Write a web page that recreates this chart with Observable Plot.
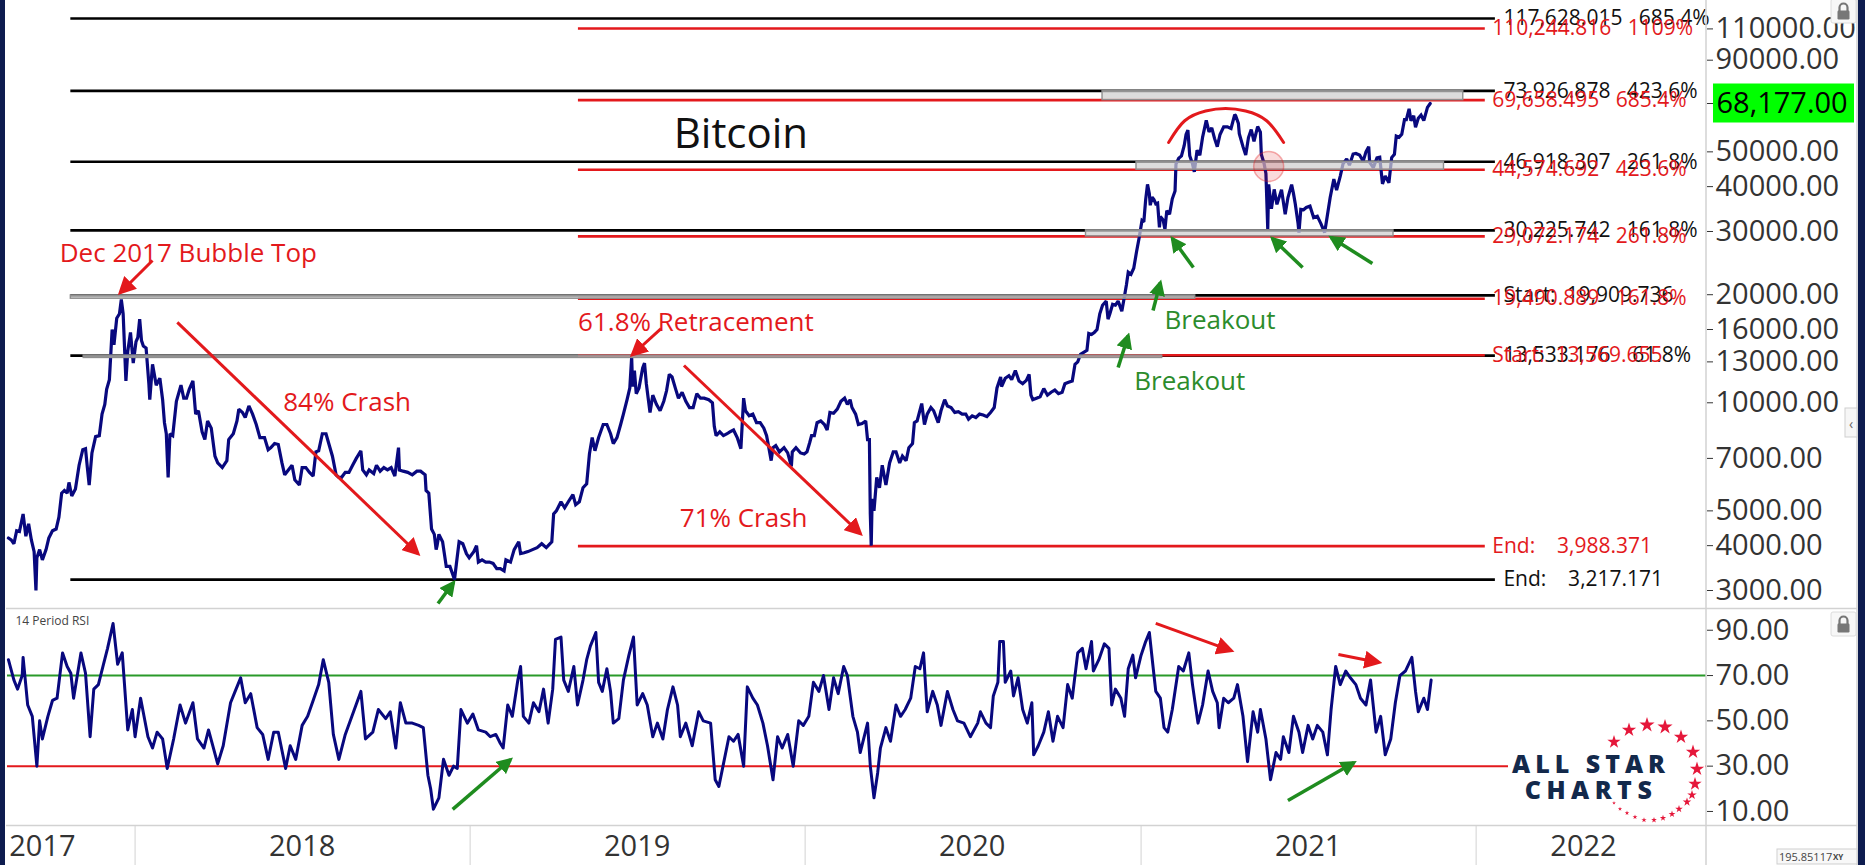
<!DOCTYPE html>
<html><head><meta charset="utf-8">
<script src="https://cdn.jsdelivr.net/npm/d3@7"></script>
<script src="https://cdn.jsdelivr.net/npm/@observablehq/plot@0.6"></script>
<style>
body{margin:0;background:#fff;font-family:"Open Sans",sans-serif;}
#wrap{position:relative;width:1865px;height:865px;overflow:hidden;background:#fff;}
#wrap svg{display:block}
</style></head><body><div id="wrap"></div><script>
// ---------------- DATA ----------------
const price2017 = [["2017-08-16",4200],["2017-08-19",4150],["2017-08-22",4050],["2017-08-25",4400],["2017-08-28",4380],["2017-09-01",4900],["2017-09-04",4250],["2017-09-07",4600],["2017-09-10",4150],["2017-09-13",3850],["2017-09-15",3000],["2017-09-16",3700],["2017-09-19",3900],["2017-09-22",3650],["2017-09-26",3900],["2017-09-29",4200],["2017-10-03",4400],["2017-10-07",4450],["2017-10-10",4800],["2017-10-13",5600],["2017-10-16",5700],["2017-10-19",5600],["2017-10-21",6000],["2017-10-24",5500],["2017-10-28",5750],["2017-11-01",6700],["2017-11-05",7400],["2017-11-08",7450],["2017-11-10",6600],["2017-11-12",5900],["2017-11-15",7250],["2017-11-19",8050],["2017-11-23",8100],["2017-11-26",9300],["2017-11-29",9900],["2017-12-01",10900],["2017-12-04",11600],["2017-12-07",16000],["2017-12-09",14500],["2017-12-12",17200],["2017-12-15",17700],["2017-12-17",19400],["2017-12-19",17700],["2017-12-22",11500],["2017-12-24",13900],["2017-12-27",15700],["2017-12-30",12900]];
const price2018 = [["2018-01-02",14800],["2018-01-04",15200],["2018-01-06",17100],["2018-01-08",14900],["2018-01-10",14400],["2018-01-13",14200],["2018-01-16",11300],["2018-01-17",10200],["2018-01-20",12800],["2018-01-24",11200],["2018-01-28",11700],["2018-01-31",10200],["2018-02-02",8800],["2018-02-04",8200],["2018-02-06",6200],["2018-02-08",8200],["2018-02-11",8100],["2018-02-15",10100],["2018-02-20",11200],["2018-02-23",10300],["2018-02-26",10300],["2018-03-01",10900],["2018-03-05",11500],["2018-03-08",9300],["2018-03-11",9500],["2018-03-15",8300],["2018-03-18",7900],["2018-03-21",8900],["2018-03-25",8500],["2018-03-29",7100],["2018-04-01",6800],["2018-04-06",6600],["2018-04-11",6900],["2018-04-13",7900],["2018-04-18",8200],["2018-04-22",8900],["2018-04-24",9600],["2018-04-28",9400],["2018-05-01",9100],["2018-05-05",9800],["2018-05-09",9300],["2018-05-13",8700],["2018-05-17",8000],["2018-05-22",8000],["2018-05-26",7400],["2018-05-29",7500],["2018-06-02",7700],["2018-06-06",7650],["2018-06-10",6800],["2018-06-13",6300],["2018-06-17",6500],["2018-06-21",6700],["2018-06-24",6100],["2018-06-29",5900],["2018-07-02",6600],["2018-07-06",6600],["2018-07-10",6400],["2018-07-14",6250],["2018-07-17",7300],["2018-07-20",7350],["2018-07-24",8200],["2018-07-28",8200],["2018-07-31",7700],["2018-08-04",7100],["2018-08-08",6300],["2018-08-11",6200],["2018-08-14",6200],["2018-08-18",6400],["2018-08-22",6400],["2018-08-26",6700],["2018-08-30",7000],["2018-09-04",7350],["2018-09-06",6500],["2018-09-10",6300],["2018-09-13",6500],["2018-09-18",6350],["2018-09-21",6700],["2018-09-25",6450],["2018-09-29",6600],["2018-10-03",6500],["2018-10-07",6600],["2018-10-11",6250],["2018-10-15",7500],["2018-10-16",6500],["2018-10-20",6450],["2018-10-25",6400],["2018-10-30",6300],["2018-11-04",6450],["2018-11-08",6450],["2018-11-13",6300],["2018-11-14",5700],["2018-11-17",5600],["2018-11-19",4800],["2018-11-20",4450],["2018-11-23",4300],["2018-11-25",3900],["2018-11-26",4000],["2018-11-28",4300],["2018-12-02",4100],["2018-12-06",3500],["2018-12-10",3500],["2018-12-15",3220],["2018-12-17",3550],["2018-12-20",4100],["2018-12-24",4050],["2018-12-28",3800],["2018-12-31",3700]];
const price2019 = [["2019-01-05",3850],["2019-01-08",4000],["2019-01-10",3600],["2019-01-14",3650],["2019-01-18",3600],["2019-01-22",3600],["2019-01-26",3570],["2019-01-30",3450],["2019-02-03",3450],["2019-02-07",3400],["2019-02-09",3650],["2019-02-14",3600],["2019-02-18",3900],["2019-02-23",4100],["2019-02-25",3800],["2019-03-01",3820],["2019-03-05",3850],["2019-03-10",3900],["2019-03-15",3950],["2019-03-20",4050],["2019-03-25",3950],["2019-03-31",4100],["2019-04-02",4900],["2019-04-05",5000],["2019-04-10",5300],["2019-04-14",5100],["2019-04-18",5300],["2019-04-23",5550],["2019-04-26",5200],["2019-04-30",5300],["2019-05-04",5800],["2019-05-08",5950],["2019-05-11",7200],["2019-05-14",8000],["2019-05-17",7350],["2019-05-21",8000],["2019-05-26",8700],["2019-05-30",8700],["2019-06-03",8200],["2019-06-06",7700],["2019-06-10",8000],["2019-06-14",8700],["2019-06-17",9300],["2019-06-21",10200],["2019-06-24",11000],["2019-06-26",13400],["2019-06-27",11100],["2019-06-29",12300],["2019-07-01",10600],["2019-07-04",11000],["2019-07-08",12500],["2019-07-10",12900],["2019-07-12",11300],["2019-07-14",10300],["2019-07-16",9400],["2019-07-19",10500],["2019-07-23",9900],["2019-07-27",9500],["2019-07-31",10100],["2019-08-03",10800],["2019-08-06",12000],["2019-08-09",11800],["2019-08-13",10900],["2019-08-16",10300],["2019-08-20",10700],["2019-08-24",10100],["2019-08-28",9700],["2019-09-01",9700],["2019-09-05",10600],["2019-09-09",10300],["2019-09-13",10300],["2019-09-18",10200],["2019-09-22",10000],["2019-09-24",8600],["2019-09-26",8100],["2019-09-30",8300],["2019-10-04",8100],["2019-10-08",8200],["2019-10-11",8300],["2019-10-15",8400],["2019-10-19",8000],["2019-10-23",7450],["2019-10-26",10300],["2019-10-28",9500],["2019-11-01",9200],["2019-11-05",9300],["2019-11-09",8800],["2019-11-13",8800],["2019-11-17",8500],["2019-11-20",8100],["2019-11-22",7600],["2019-11-25",6900],["2019-11-27",7500],["2019-11-30",7600],["2019-12-04",7300],["2019-12-09",7500],["2019-12-13",7250],["2019-12-17",6650],["2019-12-18",7300],["2019-12-22",7500],["2019-12-27",7250],["2019-12-31",7200]];
const price2020 = [["2020-01-03",7300],["2020-01-06",7750],["2020-01-08",8100],["2020-01-11",8100],["2020-01-14",8800],["2020-01-18",8900],["2020-01-22",8700],["2020-01-25",8400],["2020-01-28",9400],["2020-02-01",9350],["2020-02-05",9600],["2020-02-09",10100],["2020-02-13",10300],["2020-02-16",9900],["2020-02-19",10200],["2020-02-21",9700],["2020-02-25",9300],["2020-02-28",8700],["2020-03-03",8750],["2020-03-07",8900],["2020-03-09",7900],["2020-03-11",7900],["2020-03-12",4900],["2020-03-13",4000],["2020-03-14",5400],["2020-03-16",5000],["2020-03-19",6200],["2020-03-22",5800],["2020-03-25",6700],["2020-03-29",5900],["2020-04-02",6800],["2020-04-06",7300],["2020-04-09",7300],["2020-04-13",6800],["2020-04-16",7100],["2020-04-20",6900],["2020-04-23",7500],["2020-04-27",7700],["2020-04-29",8800],["2020-05-02",8900],["2020-05-07",9950],["2020-05-10",8700],["2020-05-13",9300],["2020-05-17",9700],["2020-05-20",9500],["2020-05-25",8800],["2020-05-28",9500],["2020-06-01",10200],["2020-06-04",9800],["2020-06-08",9700],["2020-06-12",9400],["2020-06-16",9450],["2020-06-20",9300],["2020-06-24",9300],["2020-06-27",9000],["2020-07-01",9200],["2020-07-05",9100],["2020-07-09",9300],["2020-07-13",9250],["2020-07-17",9150],["2020-07-21",9400],["2020-07-25",9700],["2020-07-28",11000],["2020-08-01",11800],["2020-08-02",11100],["2020-08-06",11700],["2020-08-10",11900],["2020-08-13",11600],["2020-08-17",12300],["2020-08-21",11500],["2020-08-25",11300],["2020-08-29",11550],["2020-09-01",12000],["2020-09-03",10500],["2020-09-05",10200],["2020-09-09",10300],["2020-09-13",10400],["2020-09-17",10950],["2020-09-21",10500],["2020-09-25",10700],["2020-09-29",10850],["2020-10-03",10600],["2020-10-07",10700],["2020-10-10",11300],["2020-10-14",11400],["2020-10-18",11500],["2020-10-21",12800],["2020-10-24",13000],["2020-10-27",13650],["2020-10-30",13800],["2020-11-03",14000],["2020-11-05",15600],["2020-11-08",15500],["2020-11-11",15700],["2020-11-14",16000],["2020-11-17",17700],["2020-11-20",18700],["2020-11-24",19200],["2020-11-26",17100],["2020-11-28",17700],["2020-12-01",18800],["2020-12-04",18700],["2020-12-07",19200],["2020-12-11",18000],["2020-12-13",19200],["2020-12-16",21300],["2020-12-18",23100],["2020-12-21",22800],["2020-12-24",23700],["2020-12-27",26300],["2020-12-30",28900]];
const price2021 = [["2021-01-02",32200],["2021-01-04",31900],["2021-01-06",36800],["2021-01-08",40600],["2021-01-10",38200],["2021-01-11",35500],["2021-01-13",37400],["2021-01-15",36800],["2021-01-17",35800],["2021-01-19",36000],["2021-01-21",30800],["2021-01-22",33000],["2021-01-25",32300],["2021-01-27",30400],["2021-01-29",34300],["2021-02-01",33500],["2021-02-04",37000],["2021-02-07",38900],["2021-02-08",46200],["2021-02-11",48000],["2021-02-14",48700],["2021-02-17",52100],["2021-02-19",55900],["2021-02-21",57500],["2021-02-23",48800],["2021-02-26",46300],["2021-02-28",44000],["2021-03-03",50500],["2021-03-06",48900],["2021-03-09",54900],["2021-03-13",61200],["2021-03-16",56800],["2021-03-19",58300],["2021-03-22",54500],["2021-03-25",51700],["2021-03-28",55900],["2021-04-01",58700],["2021-04-05",58700],["2021-04-09",58100],["2021-04-13",63500],["2021-04-14",63100],["2021-04-17",60000],["2021-04-18",56200],["2021-04-22",51700],["2021-04-25",49000],["2021-04-28",54800],["2021-05-01",57700],["2021-05-04",53500],["2021-05-08",58800],["2021-05-11",56700],["2021-05-12",49200],["2021-05-15",46400],["2021-05-17",43500],["2021-05-19",30500],["2021-05-20",40600],["2021-05-23",34700],["2021-05-26",39300],["2021-05-29",35700],["2021-06-03",39200],["2021-06-07",33500],["2021-06-10",37300],["2021-06-14",40500],["2021-06-16",38300],["2021-06-18",35800],["2021-06-21",31600],["2021-06-22",29800],["2021-06-24",34600],["2021-06-27",34500],["2021-06-30",35000],["2021-07-04",35300],["2021-07-08",32800],["2021-07-12",33100],["2021-07-16",31500],["2021-07-20",29800],["2021-07-22",32100],["2021-07-26",37300],["2021-07-30",42000],["2021-08-02",39100],["2021-08-06",42800],["2021-08-09",46300],["2021-08-13",47800],["2021-08-16",45900],["2021-08-20",49300],["2021-08-23",49500],["2021-08-27",49000],["2021-08-31",47100],["2021-09-03",50000],["2021-09-06",51700],["2021-09-07",46800],["2021-09-11",45200],["2021-09-15",48100],["2021-09-18",48300],["2021-09-21",40700],["2021-09-24",42800],["2021-09-28",41000],["2021-10-01",48200],["2021-10-04",49200],["2021-10-06",55300],["2021-10-09",54900],["2021-10-12",56000],["2021-10-15",61500],["2021-10-17",61500],["2021-10-20",65900],["2021-10-22",61000],["2021-10-25",63000],["2021-10-27",58500],["2021-10-30",62000],["2021-11-02",63300],["2021-11-05",61100],["2021-11-09",66500],["2021-11-12",68177]];

// RSI: [days since 2017-08-15, value]
const rsiStart = "2017-08-15";
const rsiPart1 = [[1,77],[7,68],[11,64],[16,70],[17,78],[22,57],[27,52],[32,30],[35,50],[38,42],[44,52],[49,59],[54,60],[60,80],[65,74],[69,71],[72,60],[80,80],[85,71],[90,43],[94,64],[99,66],[104,74],[109,82],[115,93],[120,75],[125,80],[131,46],[136,55],[139,43],[145,60],[153,43],[158,38],[163,45],[169,42],[174,29],[181,42],[188,57],[194,49],[202,58],[207,42],[214,38],[219,46],[229,31],[235,39],[243,58],[248,63],[254,69],[259,58],[265,62],[272,47],[278,44],[284,33],[290,45],[295,45],[303,29],[308,39],[314,33],[321,48],[327,52],[333,59],[339,66],[344,77],[350,67],[355,44],[361,33],[368,44],[377,54],[385,63],[390,42],[398,45],[404,55],[412,51],[417,54],[423,38],[428,58],[434,49],[441,49],[448,48],[453,47],[458,26],[461,20],[464,11],[470,16],[475,33],[481,26],[486,30],[490,29],[494,55],[501,49],[507,53],[513,46],[521,45],[526,43],[532,44],[537,40],[540,38]];
const rsiPart2 = [[545,57],[550,52],[556,68],[559,74],[562,52],[568,49],[573,58],[579,54],[584,64],[589,49],[594,64],[597,86],[603,87],[606,68],[611,63],[617,74],[621,57],[627,68],[631,77],[635,83],[641,89],[644,67],[648,63],[653,73],[657,63],[660,49],[666,51],[671,68],[677,79],[682,87],[686,57],[692,62],[697,57],[703,43],[708,49],[714,42],[719,55],[725,65],[730,57],[733,43],[739,49],[746,39],[753,54],[758,50],[766,49],[771,24],[775,21],[780,31],[786,43],[791,41],[796,44],[802,30],[806,65],[812,60],[817,57],[823,49],[828,39],[834,24],[839,43],[844,38],[850,44],[856,30],[862,50],[867,48],[873,52],[878,67],[884,63],[889,70],[895,55],[900,69],[905,62],[911,74],[915,70],[921,52],[926,45],[929,36],[937,49],[940,30],[944,16],[948,27],[951,38],[957,47],[962,41],[968,57],[973,52],[978,55],[984,60],[989,74],[994,73],[998,80],[1002,54],[1008,63],[1013,57],[1017,48],[1024,63],[1030,55],[1035,50],[1042,49],[1049,43],[1057,49]];
const rsiPart3 = [[1060,54],[1066,49],[1071,47],[1074,61],[1079,67],[1081,85],[1085,85],[1087,67],[1093,72],[1096,61],[1101,69],[1106,55],[1111,49],[1116,58],[1118,35],[1123,39],[1129,45],[1134,54],[1139,41],[1144,52],[1150,47],[1155,66],[1160,60],[1166,80],[1171,82],[1175,73],[1181,85],[1183,72],[1189,77],[1195,84],[1200,82],[1203,57],[1207,64],[1213,60],[1217,52],[1221,73],[1226,79],[1229,69],[1235,79],[1240,85],[1244,89],[1248,74],[1251,63],[1256,60],[1260,47],[1264,45],[1269,55],[1276,74],[1281,72],[1287,80],[1291,66],[1297,49],[1302,57],[1308,72],[1313,63],[1318,58],[1320,47],[1325,60],[1330,58],[1336,60],[1340,66],[1346,52],[1351,32],[1357,54],[1362,45],[1365,55],[1371,42],[1376,24],[1382,36],[1387,33],[1390,43],[1396,36],[1401,52],[1407,45],[1411,36],[1417,48],[1422,42],[1427,48],[1433,45],[1438,35],[1442,55],[1447,74],[1452,66],[1458,72],[1463,69],[1469,66],[1474,60],[1480,57],[1485,68],[1491,45],[1496,52],[1501,35],[1507,42],[1512,58],[1517,70],[1523,72],[1530,78],[1534,63],[1537,54],[1543,60],[1547,55],[1551,68]];

// Fibonacci levels (black: 19,909.736 -> 3,217.171 ; red: 13,569.655 -> 3,988.371)
const blackLevels = [117628.015, 73926.878, 46918.307, 30225.742, 19909.736, 13533.176, 3217.171];
const blackLabels = ["117,628.015   685.4%", "73,926.878   423.6%", "46,918.307   261.8%", "30,225.742   161.8%", "Start:  19,909.736", "13,533.176    61.8%", "End:    3,217.171"];
const redLevels = [110244.816, 69658.495, 44574.692, 29072.174, 19490.889, 13569.655, 3988.371];
const redLabels = ["110,244.816   1109%", "69,658.495   685.4%", "44,574.692   423.6%", "29,072.174   261.8%", "19,490.889   161.8%", "Start:  13,569.655", "End:    3,988.371"];
const blackSpanDays = [69, 1621];
const redSpanDays = [622, 1610];

// shaded fib zones: [startDay, endDay, low, high]
const zones = [[1193,1586,69658.495,73926.878],[1230,1565,44574.692,46918.307],[1175,1510,29072.174,30225.742],[69,1294,19490.889,19909.736],[83,1258,13330,13533.176]];

const priceTicks = [3000,4000,5000,7000,10000,13000,16000,20000,30000,40000,50000,90000,110000];
const lastPrice = 68177;
const rsiTicks = [10,30,50,70,90];
const rsiLevels = [70, 30];
const yearStarts = ["2018-01-01","2019-01-01","2020-01-01","2021-01-01","2022-01-01"];
const yearLabelDates = ["2017-09-22","2018-07-02","2019-07-02","2020-07-01","2021-07-02","2022-04-28"];

// annotations (day offset, value)
const noteRedText = ["Dec 2017 Bubble Top","84% Crash","61.8% Retracement","71% Crash"];
const noteRedDay = [197, 370, 750, 802];
const noteRedPrice = [26050, 10018, 16740, 4762];
const noteGreenText = ["Breakout","Breakout"];
const noteGreenDay = [1321, 1288];
const noteGreenPrice = [16960, 11465];
const titleText = "Bitcoin", titleDay = 799, titlePrice = 55880;
const priceArrowsRed = [[158,24910,123,20290],[185,16740,447,3804],[712,16100,681,13630],[737,12700,929,4324]];
const priceArrowsGreen = [[469,2760,486,3158],[1248,18080,1256,21630],[1210,12540,1221,15390],[1292,23810,1269,28680],[1411,23810,1378,28680],[1487,24430,1442,28870]];
const rsiArrowsRed = [[1251,93,1333,81],[1450,79.3,1494,75.8]];
const rsiArrowsGreen = [[485,10.9,548,32.9],[1395,14.8,1467,31.6]];
const arcDays = [1265, 1282.5, 1305.3, 1327.1, 1348.9, 1371.8, 1390.3];
const arcPrices = [53090, 61040, 64990, 66030, 64990, 61040, 53090];
const circleDay = 1374, circlePrice = 45520;

// ---------------- BUILD ----------------
const W = 1865, ML = 7, MR = 159;
const RED = "#e3191c", GREEN = "#1f8c1f", NAVY = "#08087e", FONT = "Open Sans";
const t0 = Date.parse(rsiStart);
const day = d => new Date(t0 + d * 864e5);
const xDomain = [day(0), day(1851)];
const nb = s => s.replace(/ /g, "\u00a0");

const priceData = [...price2017, ...price2018, ...price2019, ...price2020, ...price2021].map(([d, v]) => ({date: new Date(d), value: v}));
const rsiData = [...rsiPart1, ...rsiPart2, ...rsiPart3].map(([d, v]) => ({date: day(d), value: v}));
const blackLines = blackLevels.map((v, i) => ({v, label: nb(blackLabels[i])}));
const redLines = redLevels.map((v, i) => ({v, label: nb(redLabels[i])}));
const zoneData = zones.map(([a, b, lo, hi]) => ({a: day(a), b: day(b), lo, hi}));
const arrows = arr => arr.map(([d1, v1, d2, v2]) => ({x1: day(d1), y1: v1, x2: day(d2), y2: v2}));
const notesRed = noteRedText.map((t, i) => ({t, x: day(noteRedDay[i]), y: noteRedPrice[i]}));
const notesGreen = noteGreenText.map((t, i) => ({t, x: day(noteGreenDay[i]), y: noteGreenPrice[i]}));
const arcData = arcDays.map((d, i) => ({x: day(d), y: arcPrices[i]}));
const fmt2 = d => d.toFixed(2);

const baseStyle = {fontFamily: FONT, fontSize: "29px", color: "#333", background: "transparent", overflow: "visible"};

const priceChart = Plot.plot({
  width: W, height: 608, marginLeft: ML, marginRight: MR, marginTop: 0, marginBottom: 0,
  style: baseStyle,
  x: {type: "utc", domain: xDomain, axis: null},
  y: {type: "log", domain: [2673, 131990], axis: null},
  marks: [
    Plot.ruleY(blackLines, {y: "v", x1: () => day(blackSpanDays[0]), x2: () => day(blackSpanDays[1]), stroke: "#000", strokeWidth: 2.6}),
    Plot.ruleY(redLines, {y: "v", x1: () => day(redSpanDays[0]), x2: () => day(redSpanDays[1]), stroke: RED, strokeWidth: 2.6}),
    Plot.line(priceData, {x: "date", y: "value", stroke: NAVY, strokeWidth: 3.2, strokeLinejoin: "miter", strokeMiterlimit: 2}),
    Plot.rect(zoneData, {x1: "a", x2: "b", y1: "lo", y2: "hi", fill: "#cfcfcf", fillOpacity: 0.72, stroke: "#8e8e8e", strokeWidth: 1.4}),
    Plot.dot([circleDay], {x: d => day(d), y: () => circlePrice, r: 15, fill: RED, fillOpacity: 0.16, stroke: RED, strokeOpacity: 0.35, strokeWidth: 1.5}),
    Plot.line(arcData, {x: "x", y: "y", stroke: RED, strokeWidth: 3, curve: "natural"}),
    Plot.text(blackLines, {x: () => day(blackSpanDays[1]), y: "v", text: "label", textAnchor: "start", dx: 8, fontSize: 21, fill: "#111"}),
    Plot.text(redLines, {x: () => day(redSpanDays[1]), y: "v", text: "label", textAnchor: "start", dx: 7, fontSize: 21, fill: RED}),
    Plot.text(notesRed, {x: "x", y: "y", text: "t", fill: RED, fontSize: 26}),
    Plot.text(notesGreen, {x: "x", y: "y", text: "t", fill: "#2c8c2c", fontSize: 26}),
    Plot.text([titleText], {x: () => day(titleDay), y: () => titlePrice, text: d => d, fill: "#111", fontSize: 42}),
    Plot.link(arrows(priceArrowsRed), {x1: "x1", y1: "y1", x2: "x2", y2: "y2", stroke: RED, strokeWidth: 3}),
    Plot.link(arrows(priceArrowsGreen), {x1: "x1", y1: "y1", x2: "x2", y2: "y2", stroke: GREEN, strokeWidth: 3.5}),
    Plot.axisY(priceTicks, {anchor: "right", tickFormat: fmt2, tickSize: 6, tickPadding: 3}),
    Plot.axisY([lastPrice], {anchor: "right", tickFormat: d3.format(",.2f"), tickSize: 6, tickPadding: 4})
  ]
});

const rsiChart = Plot.plot({
  width: W, height: 257, marginLeft: ML, marginRight: MR, marginTop: 0, marginBottom: 40,
  style: baseStyle,
  x: {type: "utc", domain: xDomain, axis: null},
  y: {domain: [3.8, 99.6], axis: null},
  marks: [
    Plot.ruleY(rsiLevels, {y: d => d, stroke: d => d === 70 ? "#2a9a2a" : RED, strokeWidth: 2}),
    Plot.line(rsiData, {x: "date", y: "value", stroke: NAVY, strokeWidth: 3}),
    Plot.link(arrows(rsiArrowsRed), {x1: "x1", y1: "y1", x2: "x2", y2: "y2", stroke: RED, strokeWidth: 3}),
    Plot.link(arrows(rsiArrowsGreen), {x1: "x1", y1: "y1", x2: "x2", y2: "y2", stroke: GREEN, strokeWidth: 3.5}),
    Plot.axisY(rsiTicks, {anchor: "right", tickFormat: fmt2, tickSize: 6, tickPadding: 3}),
    Plot.axisX(yearStarts.map(d => new Date(d)), {anchor: "bottom", tickSize: 40, tickFormat: () => "", stroke: "#d2d2d2"}),
    Plot.axisX(yearLabelDates.map(d => new Date(d)), {anchor: "bottom", tickSize: 0, tickPadding: 10, tickFormat: d3.utcFormat("%Y")}),
    Plot.text(["14 Period RSI"], {frameAnchor: "top-left", dx: 8, dy: 13, lineAnchor: "middle", text: d => d, fontSize: 12, fill: "#444"})
  ]
});

const wrap = document.getElementById("wrap");
wrap.appendChild(priceChart);
wrap.appendChild(rsiChart);

// arrow heads
const NS = "http://www.w3.org/2000/svg";
function addHeads(svg, prefix) {
  const defs = document.createElementNS(NS, "defs");
  [[RED, "r", 6], [GREEN, "g", 4.6]].forEach(([c, k, s]) => {
    const m = document.createElementNS(NS, "marker");
    m.setAttribute("id", prefix + k); m.setAttribute("viewBox", "0 0 10 10");
    m.setAttribute("refX", "8"); m.setAttribute("refY", "5");
    m.setAttribute("markerWidth", s); m.setAttribute("markerHeight", s);
    m.setAttribute("orient", "auto");
    const p = document.createElementNS(NS, "path");
    p.setAttribute("d", "M0,0L10,5L0,10Z"); p.setAttribute("fill", c);
    m.appendChild(p); defs.appendChild(m);
  });
  svg.insertBefore(defs, svg.firstChild);
  svg.querySelectorAll('g[aria-label="link"]').forEach(g => {
    const s = (g.getAttribute("stroke") || "").toLowerCase();
    const id = prefix + (s === RED.toLowerCase() ? "r" : "g");
    g.querySelectorAll("path").forEach(p => p.setAttribute("marker-end", `url(#${id})`));
  });
}
addHeads(priceChart, "p");
addHeads(rsiChart, "q");

// last price highlight box
const yLast = priceChart.scale("y").apply(lastPrice);
const box = document.createElementNS(NS, "rect");
box.setAttribute("x", W - MR + 7); box.setAttribute("y", yLast - 19.5);
box.setAttribute("width", 141); box.setAttribute("height", 39); box.setAttribute("fill", "#00ff00");
priceChart.insertBefore(box, priceChart.firstChild.nextSibling);
priceChart.querySelectorAll("text").forEach(t => { if (t.textContent === d3.format(",.2f")(lastPrice)) t.setAttribute("fill", "#000"); });

// ---------------- chrome overlay ----------------
const ov = d3.select(wrap).append("svg").attr("width", W).attr("height", 865)
  .style("position", "absolute").style("left", 0).style("top", 0).style("pointer-events", "none");
const line = (x1, y1, x2, y2, c = "#d2d2d2", w = 1.5) => ov.append("line").attr("x1", x1).attr("y1", y1).attr("x2", x2).attr("y2", y2).attr("stroke", c).attr("stroke-width", w);
line(1706, 0, 1706, 865); line(1857, 0, 1857, 865);
line(6, 608.5, 1857, 608.5); line(6, 825.5, 1857, 825.5);
ov.append("rect").attr("x", 0).attr("y", 0).attr("width", 5).attr("height", 865).attr("fill", "#0e1c4f");
ov.append("rect").attr("x", 1858).attr("y", 0).attr("width", 7).attr("height", 865).attr("fill", "#0e1c4f");

// logo
ov.append("rect").attr("x", 1508).attr("y", 720).attr("width", 197).attr("height", 104).attr("fill", "#fff");
ov.append("text").attr("x", 1591).attr("y", 763).attr("text-anchor", "middle").attr("dominant-baseline", "central")
  .attr("font-family", FONT).attr("font-weight", 800).attr("font-size", 25).attr("letter-spacing", 5).attr("fill", "#13294b").text("ALL STAR");
ov.append("text").attr("x", 1591).attr("y", 789).attr("text-anchor", "middle").attr("dominant-baseline", "central")
  .attr("font-family", FONT).attr("font-weight", 800).attr("font-size", 25).attr("letter-spacing", 5.5).attr("fill", "#13294b").text("CHARTS");
const starPts = [[1614,742,7],[1629,730,7.5],[1647,725,8],[1665,727,8],[1681,737,7.5],[1693,752,7.5],[1697,769,7.5],[1695,784,7],[1692,795,5],[1687,802,4.5],[1679,809,4],[1672,814,3.6],[1663,818,3.3],[1654,820,3],[1644,820,2.8],[1635,817,2.6],[1627,813,2.4],[1620,809,2.2],[1614,803,2]];
starPts.forEach(([x, y, r]) => ov.append("path").attr("transform", `translate(${x},${y})`)
  .attr("d", d3.symbol(d3.symbolStar, r * r / 0.8908130915292852)()).attr("fill", "#e5173a"));

// lock icons
function lock(x, y) {
  const g = ov.append("g").attr("transform", `translate(${x},${y})`);
  g.append("rect").attr("x", 0).attr("y", 0).attr("width", 25).attr("height", 24).attr("rx", 2).attr("fill", "#f7f7f7").attr("stroke", "#dcdcdc");
  g.append("path").attr("d", "M8.5,12 V8.5 a4,4 0 0 1 8,0 V12").attr("fill", "none").attr("stroke", "#777").attr("stroke-width", 2.2);
  g.append("rect").attr("x", 6.5).attr("y", 11.5).attr("width", 12).attr("height", 9).attr("rx", 1.2).attr("fill", "#777");
}
lock(1831, -1); lock(1831, 612);
const tab = ov.append("g").attr("transform", "translate(1845,408)");
tab.append("rect").attr("width", 12).attr("height", 29).attr("fill", "#f6f6f6").attr("stroke", "#cfcfcf");
tab.append("text").attr("x", 6).attr("y", 15).attr("text-anchor", "middle").attr("dominant-baseline", "central").attr("font-size", 14).attr("fill", "#666").text("‹");
const xy = ov.append("g").attr("transform", "translate(1777,849)");
xy.append("rect").attr("width", 80).attr("height", 15).attr("fill", "#f8f8f8").attr("stroke", "#cfcfcf");
xy.append("text").attr("x", 2).attr("y", 12).attr("font-family", FONT).attr("font-size", 11).attr("fill", "#444").text("195.85117");
xy.append("text").attr("x", 56).attr("y", 11).attr("font-family", FONT).attr("font-size", 8).attr("font-weight", 700).attr("fill", "#444").text("XY");
</script></body></html>
